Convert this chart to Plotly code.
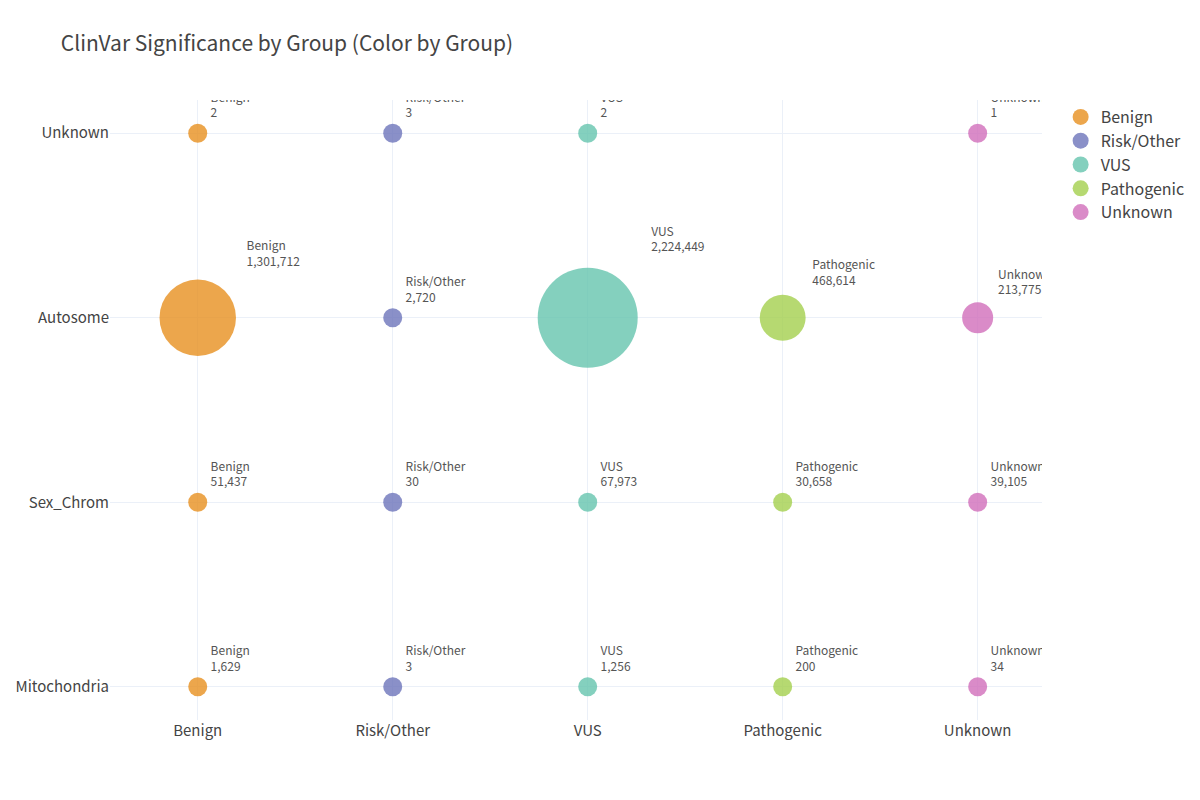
import plotly.graph_objects as go

# significance classes (x axis / colour) and chromosome groups (y axis)
significance = ["Benign", "Risk/Other", "VUS", "Pathogenic", "Unknown"]
groups = ["Mitochondria", "Sex_Chrom", "Autosome", "Unknown"]

# variant counts per group, one list per significance class (None = no point)
benign = [1629, 51437, 1301712, 2]
risk_other = [3, 30, 2720, 3]
vus = [1256, 67973, 2224449, 2]
pathogenic = [200, 30658, 468614, None]
unknown = [34, 39105, 213775, 1]

counts = {
    "Benign": benign,
    "Risk/Other": risk_other,
    "VUS": vus,
    "Pathogenic": pathogenic,
    "Unknown": unknown,
}

colors = {
    "Benign": "#E7901F",
    "Risk/Other": "#6D74BA",
    "VUS": "#65C4AE",
    "Pathogenic": "#A4CF4D",
    "Unknown": "#D16EBA",
}

max_count = max(v for vals in counts.values() for v in vals if v is not None)
sizeref = 2.0 * max_count / (100 ** 2)

fig = go.Figure()
for sig in significance:
    xs, ys, vals, txt = [], [], [], []
    for g, v in zip(groups, counts[sig]):
        if v is None:
            continue
        xs.append(sig)
        ys.append(g)
        vals.append(v)
        txt.append(f"{sig}<br>{v:,}")
    fig.add_trace(go.Scatter(
        x=xs, y=ys, mode="markers+text", name=sig,
        text=txt, textposition="top right",
        textfont=dict(size=12, color="#555"),
        marker=dict(size=vals, sizemode="area", sizeref=sizeref, sizemin=9.5,
                    color=colors[sig], opacity=0.8, line=dict(width=0)),
    ))

fig.update_layout(
    template="plotly_white",
    width=1200, height=800,
    title=dict(text="ClinVar Significance by Group (Color by Group)",
               x=0.044, y=0.965, font=dict(size=21)),
    font=dict(family="Noto Sans CJK KR, Noto Sans, sans-serif", size=16, color="#444"),
    margin=dict(l=102, r=166, t=92, b=88),
    legend=dict(font=dict(size=16)),
)
fig.update_xaxes(categoryorder="array", categoryarray=significance,
                 range=[-0.45, 4.33], tickfont=dict(size=15), automargin=False)
fig.update_yaxes(categoryorder="array", categoryarray=groups,
                 range=[-0.18, 3.18], tickfont=dict(size=15), automargin=False)

fig.write_html("out.html")
